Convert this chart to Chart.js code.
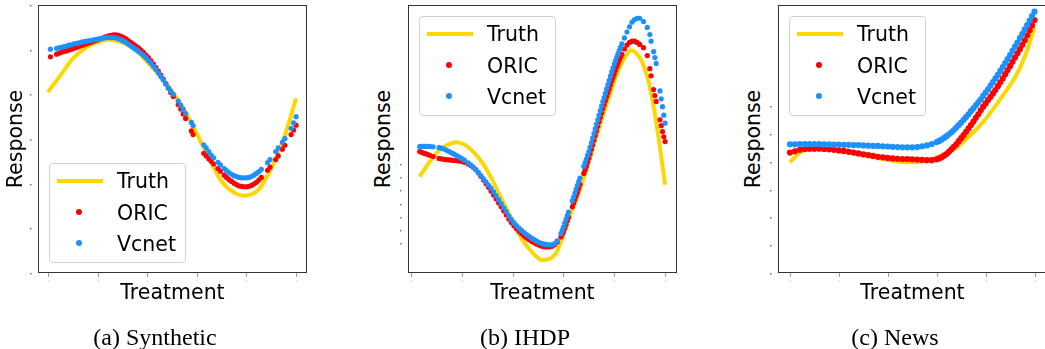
<!DOCTYPE html>
<html><head><meta charset="utf-8">
<script src="https://cdn.jsdelivr.net/npm/chart.js@4/dist/chart.umd.min.js"></script>
<style>
html,body{margin:0;padding:0;background:#fff;}
body{width:1045px;height:349px;position:relative;overflow:hidden;}
.wrap{position:absolute;}
.lbl{position:absolute;font-family:"DejaVu Sans";font-size:20.5px;line-height:24px;color:#000;white-space:nowrap;text-align:center;}
.cap{position:absolute;font-family:"Liberation Serif";font-size:24px;line-height:26px;color:#000;white-space:nowrap;text-align:center;width:240px;}
.leg{position:absolute;width:135px;height:98px;border:1px solid #d0d0d0;border-radius:4px;background:rgba(255,255,255,0.8);}
.leg .ln{position:absolute;left:7px;width:46px;height:4px;background:#FFD700;}
.leg .dt{position:absolute;left:26px;width:6px;height:6px;border-radius:50%;}
.leg .tx{position:absolute;left:67px;font-family:"DejaVu Sans";font-size:20.5px;line-height:24px;color:#000;white-space:nowrap;}
</style></head>
<body>
<script>
// ---------- data ----------
const xTicks = [0, 0.2, 0.4, 0.6, 0.8, 1.0];
const yTicks = [0, 1, 2, 3, 4, 5, 6];
const captions = ["(a) Synthetic", "(b) IHDP", "(c) News"];
const seriesNames = ["Truth", "ORIC", "Vcnet"];

// (a) Synthetic
const truthT1 = [0,0.05,0.1,0.15,0.2,0.25,0.3,0.35,0.4,0.45,0.5,0.55,0.6,0.65,0.7,0.75,0.79,0.85,0.9,0.95,1.0];
const truthY1 = [4.05,4.42,4.80,5.03,5.17,5.22,5.16,5.01,4.72,4.42,4.07,3.65,3.12,2.56,2.05,1.80,1.73,1.87,2.35,3.00,3.91];
const treat1 = [0.01,0.035,0.045,0.055,0.065,0.075,0.085,0.095,0.105,0.115,0.125,0.135,0.145,0.155,0.165,0.175,0.185,0.195,0.205,0.215,0.225,0.235,0.245,0.255,0.265,0.275,0.285,0.295,0.305,0.315,0.325,0.335,0.345,0.355,0.365,0.375,0.385,0.395,0.405,0.415,0.425,0.435,0.445,0.455,0.465,0.475,0.485,0.495,0.505,0.525,0.535,0.545,0.555,0.578,0.585,0.628,0.638,0.648,0.658,0.668,0.685,0.695,0.71,0.72,0.73,0.74,0.75,0.76,0.77,0.78,0.79,0.80,0.81,0.82,0.83,0.84,0.85,0.86,0.885,0.895,0.918,0.928,0.945,0.955,0.98,0.99,1.0];
const oric1 = [4.84,4.90,4.92,4.94,4.96,4.97,4.99,5.01,5.03,5.05,5.07,5.09,5.11,5.13,5.15,5.17,5.19,5.21,5.23,5.25,5.27,5.29,5.31,5.32,5.33,5.33,5.32,5.30,5.27,5.24,5.20,5.16,5.12,5.08,5.04,4.99,4.94,4.88,4.82,4.75,4.68,4.60,4.52,4.43,4.34,4.24,4.14,4.04,3.95,3.77,3.67,3.56,3.46,3.18,3.10,2.68,2.62,2.56,2.50,2.44,2.34,2.28,2.19,2.14,2.09,2.05,2.01,1.98,1.95,1.94,1.93,1.93,1.94,1.96,1.99,2.03,2.08,2.14,2.30,2.37,2.54,2.62,2.77,2.86,3.10,3.20,3.31];
const vcnet1 = [5.01,5.03,5.04,5.05,5.07,5.08,5.10,5.11,5.13,5.14,5.15,5.17,5.18,5.19,5.20,5.21,5.22,5.23,5.24,5.25,5.26,5.27,5.27,5.27,5.27,5.26,5.24,5.22,5.19,5.16,5.12,5.08,5.04,5.00,4.96,4.92,4.87,4.82,4.76,4.70,4.63,4.56,4.48,4.40,4.32,4.23,4.14,4.07,4.00,3.85,3.76,3.67,3.57,3.37,3.30,2.87,2.80,2.72,2.64,2.58,2.48,2.42,2.34,2.29,2.25,2.21,2.18,2.16,2.14,2.13,2.13,2.13,2.14,2.16,2.19,2.23,2.27,2.32,2.47,2.54,2.72,2.80,2.93,3.01,3.24,3.36,3.50];

// (b) IHDP
const truthT2 = [0.034,0.07,0.106,0.14,0.178,0.21,0.25,0.285,0.316,0.35,0.382,0.41,0.434,0.465,0.493,0.515,0.535,0.555,0.575,0.594,0.62,0.647,0.675,0.70,0.725,0.752,0.78,0.804,0.83,0.85,0.869,0.89,0.909,0.93,0.949,0.962,0.975,0.99,1.0];
const truthY2 = [5.06,6.10,6.97,7.45,7.69,7.50,6.85,6.00,4.94,3.60,2.39,1.30,0.36,-0.45,-1.04,-1.32,-1.27,-1.12,-0.66,0.30,1.75,3.15,4.65,6.21,7.85,9.52,11.15,12.57,13.75,14.40,14.70,14.40,13.84,12.70,11.05,9.60,7.99,5.90,4.43];
const treat2 = [0.034,0.04,0.046,0.052,0.058,0.064,0.074,0.087,0.11,0.12,0.13,0.14,0.15,0.16,0.17,0.18,0.19,0.2,0.21,0.225,0.235,0.245,0.255,0.265,0.275,0.285,0.295,0.305,0.315,0.325,0.335,0.345,0.355,0.365,0.375,0.385,0.395,0.405,0.415,0.425,0.435,0.445,0.455,0.465,0.475,0.485,0.495,0.505,0.515,0.525,0.535,0.545,0.555,0.565,0.575,0.59,0.6,0.61,0.62,0.635,0.645,0.655,0.665,0.68,0.69,0.7,0.71,0.72,0.73,0.74,0.75,0.76,0.77,0.78,0.79,0.8,0.81,0.82,0.83,0.84,0.85,0.86,0.87,0.88,0.89,0.9,0.915,0.93,0.94,0.955,0.965,0.98,0.99,1.0];
const oric2 = [6.97,6.93,6.88,6.84,6.80,6.76,6.68,6.59,6.45,6.41,6.38,6.35,6.33,6.31,6.29,6.27,6.25,6.22,6.15,6.02,5.90,5.77,5.60,5.35,5.08,4.80,4.52,4.24,3.95,3.65,3.35,3.05,2.75,2.44,2.13,1.82,1.55,1.30,1.08,0.88,0.70,0.53,0.38,0.24,0.11,0.00,-0.10,-0.19,-0.25,-0.29,-0.31,-0.30,-0.26,-0.15,0.05,0.45,0.85,1.40,1.95,2.75,3.30,3.85,4.45,5.30,5.85,6.46,7.15,7.85,8.55,9.25,9.90,10.55,11.15,11.75,12.35,12.90,13.45,13.95,14.40,14.80,15.10,15.30,15.40,15.40,15.30,15.15,14.90,14.30,13.30,11.70,10.80,9.40,8.50,7.73];
const vcnet2 = [7.35,7.36,7.37,7.37,7.37,7.37,7.36,7.34,7.27,7.23,7.16,7.07,6.97,6.87,6.77,6.66,6.55,6.44,6.31,6.11,5.95,5.78,5.58,5.36,5.13,4.89,4.65,4.42,4.19,3.90,3.60,3.30,3.00,2.68,2.38,2.05,1.78,1.54,1.32,1.12,0.95,0.79,0.64,0.50,0.37,0.25,0.13,0.03,-0.04,-0.10,-0.14,-0.15,-0.14,-0.05,0.15,0.70,1.20,1.80,2.35,3.20,3.80,4.40,4.95,5.85,6.40,6.97,7.65,8.35,9.05,9.75,10.45,11.10,11.75,12.40,13.05,13.65,14.20,14.70,15.20,15.65,16.10,16.50,16.85,17.05,17.15,17.15,16.90,16.45,15.90,14.60,13.70,11.60,10.40,9.14];
// extra treatment samples in the steep parts of (b)
const treat2b = [0.595,0.605,0.615,0.64,0.65,0.66,0.685,0.695,0.705,0.715,0.725,0.735,0.745,0.755,0.765,0.775,0.785,0.795,0.805,0.815,0.825,0.945,0.96,0.985,0.995];
const oric2b = [0.65,1.12,1.68,3.02,3.57,4.15,5.57,6.15,6.80,7.50,8.20,8.90,9.58,10.23,10.85,11.45,12.05,12.63,13.18,13.70,14.18,12.75,11.25,8.95,8.10];
const vcnet2b = [0.95,1.50,2.08,3.50,4.10,4.68,6.12,6.68,7.31,8.00,8.70,9.40,10.10,10.78,11.43,12.08,12.73,13.35,13.93,14.45,14.95,15.40,14.15,11.00,9.75];

// (c) News
const truthT3 = [0,0.046,0.115,0.224,0.36,0.49,0.55,0.608,0.677,0.731,0.785,0.833,0.881,0.922,0.963,1.0];
const truthY3 = [3.98,4.36,4.46,4.36,4.13,3.98,4.02,4.18,4.49,4.90,5.38,5.92,6.52,7.06,7.84,8.85];
const treat3 = [0,0.02,0.04,0.06,0.08,0.10,0.12,0.14,0.16,0.18,0.20,0.22,0.24,0.26,0.28,0.30,0.32,0.34,0.36,0.38,0.40,0.42,0.44,0.46,0.48,0.50,0.52,0.54,0.56,0.58,0.60,0.61,0.62,0.63,0.64,0.65,0.66,0.67,0.68,0.69,0.70,0.71,0.72,0.73,0.74,0.75,0.76,0.77,0.78,0.79,0.80,0.81,0.82,0.83,0.84,0.85,0.86,0.87,0.88,0.89,0.90,0.91,0.92,0.93,0.94,0.95,0.96,0.97,0.98,0.99,1.0];
const oric3 = [4.33,4.38,4.43,4.46,4.47,4.47,4.47,4.46,4.45,4.43,4.41,4.39,4.36,4.33,4.30,4.27,4.24,4.21,4.18,4.16,4.14,4.12,4.11,4.10,4.10,4.09,4.08,4.07,4.06,4.06,4.09,4.12,4.16,4.22,4.28,4.36,4.45,4.54,4.63,4.74,4.85,4.96,5.08,5.20,5.32,5.45,5.58,5.71,5.85,5.98,6.10,6.22,6.34,6.46,6.58,6.72,6.86,7.00,7.15,7.30,7.45,7.60,7.75,7.90,8.05,8.21,8.37,8.55,8.73,8.91,9.10];
const vcnet3 = [4.63,4.63,4.64,4.64,4.64,4.64,4.64,4.63,4.63,4.62,4.62,4.61,4.61,4.60,4.60,4.59,4.58,4.57,4.57,4.56,4.55,4.54,4.53,4.52,4.52,4.52,4.53,4.56,4.59,4.64,4.71,4.75,4.80,4.86,4.92,4.99,5.06,5.14,5.23,5.32,5.41,5.51,5.61,5.71,5.82,5.92,6.03,6.14,6.25,6.37,6.49,6.61,6.74,6.87,7.00,7.13,7.27,7.41,7.55,7.69,7.84,7.99,8.14,8.29,8.45,8.60,8.76,8.92,9.08,9.24,9.40];

// ---------- layout / style ----------
const COLORS = {truth: '#FFD700', oric: '#FF0000', vcnet: '#1E90FF'};
const PAD = {left: 12, right: 4, top: 5, bottom: 12};
const panels = [
  {frame: {l: 38, t: 5, w: 269, h: 268}, x: [-0.040, 1.044], y: [0, 6], r: 2.6,
   truthT: truthT1, truthY: truthY1, treat: treat1, oric: oric1, vcnet: vcnet1,
   legend: {l: 49, t: 163}, respX: 14.5, cap: 155},
  {frame: {l: 408, t: 5, w: 269, h: 268}, x: [-0.012, 1.047], y: [-2.3, 18.16], r: 2.6,
   truthT: truthT2, truthY: truthY2, treat: treat2.concat(treat2b), oric: oric2.concat(oric2b), vcnet: vcnet2.concat(vcnet2b),
   legend: {l: 419, t: 16}, respX: 383, cap: 525},
  {frame: {l: 778, t: 5, w: 269, h: 268}, x: [-0.049, 1.051], y: [0, 9.64], r: 3.1,
   truthT: truthT3, truthY: truthY3, treat: treat3, oric: oric3, vcnet: vcnet3,
   legend: {l: 789, t: 16}, respX: 753, cap: 895}
];

const framePlugin = {
  id: 'frameTicks',
  afterDraw(chart) {
    const {ctx, chartArea: a, scales} = chart;
    const xs = scales.x, ys = scales.y;
    ctx.save();
    ctx.lineWidth = 1;
    xTicks.forEach(v => {
      const px = Math.round(xs.getPixelForValue(v)) + 0.5;
      ctx.strokeStyle = '#a0a0a0';
      ctx.beginPath(); ctx.moveTo(px, a.bottom); ctx.lineTo(px, a.bottom + 4); ctx.stroke();
      ctx.fillStyle = '#d8d8d8';
      ctx.fillRect(px - 0.5, a.bottom + 7, 1, 2);
    });
    yTicks.forEach(v => {
      const py = Math.round(ys.getPixelForValue(v));
      ctx.fillStyle = '#777';
      ctx.fillRect(a.left - 8, py, 1.5, 1.5);
    });
    ctx.strokeStyle = '#333';
    ctx.strokeRect(a.left + 0.5, a.top + 0.5, a.width - 1, a.height - 1);
    ctx.restore();
  }
};

function pts(xsArr, ysArr) { return xsArr.map((t, i) => ({x: t, y: ysArr[i]})); }

function addDiv(cls, style, html) {
  const d = document.createElement('div');
  d.className = cls;
  Object.assign(d.style, style);
  if (html !== undefined) d.innerHTML = html;
  document.body.appendChild(d);
  return d;
}

panels.forEach((p, idx) => {
  const f = p.frame;
  const cw = f.w + PAD.left + PAD.right, ch = f.h + PAD.top + PAD.bottom;
  const wrap = addDiv('wrap', {left: (f.l - PAD.left) + 'px', top: (f.t - PAD.top) + 'px', width: cw + 'px', height: ch + 'px'});
  const cv = document.createElement('canvas');
  cv.width = cw; cv.height = ch;
  wrap.appendChild(cv);
  new Chart(cv, {
    type: 'scatter',
    data: {
      datasets: [
        {type: 'line', label: seriesNames[0], data: pts(p.truthT, p.truthY), borderColor: COLORS.truth,
         borderWidth: 4, pointRadius: 0, fill: false, cubicInterpolationMode: 'monotone', order: 2},
        {label: seriesNames[1], data: pts(p.treat, p.oric), backgroundColor: COLORS.oric, borderWidth: 0,
         pointRadius: p.r, order: 1},
        {label: seriesNames[2], data: pts(p.treat, p.vcnet), backgroundColor: COLORS.vcnet, borderWidth: 0,
         pointRadius: p.r, order: 0}
      ]
    },
    options: {
      responsive: false, animation: false, events: [],
      layout: {padding: PAD},
      plugins: {legend: {display: false}, tooltip: {enabled: false}},
      scales: {
        x: {type: 'linear', display: false, min: p.x[0], max: p.x[1]},
        y: {type: 'linear', display: false, min: p.y[0], max: p.y[1]}
      }
    },
    plugins: [framePlugin]
  });

  // axis titles
  const cx = f.l + f.w / 2, cy = f.t + f.h / 2;
  addDiv('lbl', {left: (cx - 100) + 'px', top: '282px', width: '200px', lineHeight: '20px'}, 'Treatment');
  addDiv('lbl', {left: (p.respX - 60) + 'px', top: (cy - 12) + 'px', width: '120px', height: '24px', transform: 'rotate(-90deg)'}, 'Response');

  // legend
  const lg = addDiv('leg', {left: p.legend.l + 'px', top: p.legend.t + 'px'});
  lg.innerHTML =
    '<div class="ln" style="top:15px"></div><div class="tx" style="top:5px">' + seriesNames[0] + '</div>' +
    '<div class="dt" style="top:45px;background:' + COLORS.oric + '"></div><div class="tx" style="top:37px">' + seriesNames[1] + '</div>' +
    '<div class="dt" style="top:76px;background:' + COLORS.vcnet + '"></div><div class="tx" style="top:68px">' + seriesNames[2] + '</div>';

  // caption
  addDiv('cap', {left: (p.cap - 120) + 'px', top: '324px'}, captions[idx]);
});
</script>
</body></html>
